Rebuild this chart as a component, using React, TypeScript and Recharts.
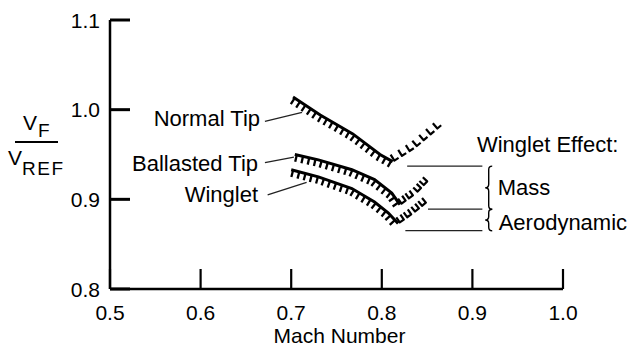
import React from 'react';
import { LineChart, Line, XAxis, YAxis, ReferenceLine, ReferenceDot } from 'recharts';

// ---- data ----
const xTicks = [0.5, 0.6, 0.7, 0.8, 0.9, 1.0];
const yTicks = [0.8, 0.9, 1.0, 1.1];

const machNormalDescent = [0.702, 0.732, 0.768, 0.798, 0.812];
const vNormalDescent = [1.014, 0.994, 0.973, 0.95, 0.942];
const machNormalRise = [0.812, 0.837, 0.866];
const vNormalRise = [0.942, 0.958, 0.983];

const machBallastedDescent = [0.704, 0.73, 0.767, 0.792, 0.811, 0.82];
const vBallastedDescent = [0.95, 0.944, 0.933, 0.922, 0.907, 0.894];
const machBallastedRise = [0.82, 0.838, 0.851];
const vBallastedRise = [0.894, 0.907, 0.921];

const machWingletDescent = [0.7, 0.73, 0.767, 0.792, 0.807, 0.818];
const vWingletDescent = [0.933, 0.925, 0.912, 0.897, 0.885, 0.873];
const machWingletRise = [0.818, 0.835, 0.853];
const vWingletRise = [0.873, 0.885, 0.9];

// Winglet effect reference levels
const levelNormalMin = 0.937;
const levelBallastedMin = 0.889;
const levelWingletMin = 0.865;

const toRows = (m: number[], v: number[]) => m.map((x, i) => ({ m: x, v: v[i] }));

const FONT = '"Liberation Sans", Arial, Helvetica, sans-serif';

// ---- hatch renderers ----
function makeHatch(mode: 'solid' | 'L' | 'U') {
  return (props: any) => {
    const { points, index } = props;
    const k = `h-${index}`;
    if (!points || index >= points.length - 1) return <g key={k} />;
    const p = points[index];
    const q = points[index + 1];
    const dx = q.x - p.x;
    const dy = q.y - p.y;
    const len = Math.hypot(dx, dy);
    if (len === 0) return <g key={k} />;
    const ux = dx / len;
    const uy = dy / len;
    let nx = -uy;
    let ny = ux;
    if (ny < 0) {
      nx = -nx;
      ny = -ny;
    }
    // cumulative distance to start of segment
    let start = 0;
    for (let i = 0; i < index; i++) {
      start += Math.hypot(points[i + 1].x - points[i].x, points[i + 1].y - points[i].y);
    }
    const parts: string[] = [];
    if (mode === 'solid') {
      const step = 6.4;
      let t = Math.ceil((start - 2) / step) * step + 2 - start;
      for (; t <= len + 0.01; t += step) {
        const ax = p.x + ux * t;
        const ay = p.y + uy * t;
        parts.push(`M${ax},${ay}L${ax + nx * 7},${ay + ny * 7}`);
      }
      return (
        <path key={k} d={parts.join('')} stroke="#000" strokeWidth={2.3} fill="none" />
      );
    }
    const pitch = 9;
    const dash = 5;
    let t = 2;
    for (; t + dash <= len + 1; t += pitch) {
      const ax = p.x + ux * t;
      const ay = p.y + uy * t;
      const bx = p.x + ux * (t + dash);
      const by = p.y + uy * (t + dash);
      if (mode === 'U') {
        parts.push(`M${ax - nx * 6},${ay - ny * 6}L${ax},${ay}L${bx},${by}L${bx - nx * 6},${by - ny * 6}`);
      } else {
        parts.push(`M${ax - nx * 7},${ay - ny * 7}L${ax},${ay}L${bx},${by}`);
      }
    }
    return (
      <path key={k} d={parts.join('')} stroke="#000" strokeWidth={2.2} fill="none" strokeLinejoin="round" />
    );
  };
}

const XTick = (props: any) => {
  const { x, y, payload } = props;
  return (
    <g>
      <line x1={x} y1={y} x2={x} y2={y - 20} stroke="#000" strokeWidth={2.2} />
      <text x={x} y={y + 31} textAnchor="middle" fontSize={21} fill="#000" fontFamily={FONT}>
        {Number(payload.value).toFixed(1)}
      </text>
    </g>
  );
};

const YTick = (props: any) => {
  const { x, y, payload } = props;
  return (
    <g>
      <line x1={x} y1={y} x2={x + 20} y2={y} stroke="#000" strokeWidth={3} />
      <text x={x - 10} y={y + 7.5} textAnchor="end" fontSize={21} fill="#000" fontFamily={FONT}>
        {Number(payload.value).toFixed(1)}
      </text>
    </g>
  );
};

const YLabel = () => (
  <g fontFamily={FONT} fill="#000">
    <text x={23} y={130} fontSize={21}>V</text>
    <text x={38} y={137} fontSize={19}>F</text>
    <line x1={15} y1={142} x2={58} y2={142} stroke="#000" strokeWidth={2.2} />
    <text x={8} y={165} fontSize={21}>V</text>
    <text x={22} y={175} fontSize={19} letterSpacing={1.5}>REF</text>
  </g>
);

const textShape = (label: string, anchor: 'start' | 'end') => (props: any) => (
  <text
    x={props.cx}
    y={props.cy}
    textAnchor={anchor}
    fontSize={22}
    fill="#000"
    fontFamily={FONT}
  >
    {label}
  </text>
);

const braceShape = (props: any) => {
  const { x1, y1, y2 } = props;
  const x = x1;
  const top = Math.min(y1, y2);
  const bot = Math.max(y1, y2);
  const mid = (top + bot) / 2;
  const w = 3.5;
  const d = `M${x + w},${top}Q${x},${top} ${x},${top + w}L${x},${mid - w}Q${x},${mid} ${x - w},${mid}Q${x},${mid} ${x},${mid + w}L${x},${bot - w}Q${x},${bot} ${x + w},${bot}`;
  return <path d={d} fill="none" stroke="#000" strokeWidth={1.4} />;
};

const thin = { stroke: '#222', strokeWidth: 1.3 };

export default function App() {
  return (
    <div style={{ position: 'absolute', left: 0, top: 0, fontFamily: FONT, background: '#fff' }}>
      <LineChart width={630} height={348} margin={{ top: 20, right: 67, bottom: 0, left: 0 }}>
        <XAxis
          type="number"
          dataKey="m"
          domain={[0.5, 1.0]}
          ticks={xTicks}
          interval={0}
          height={59}
          allowDataOverflow
          axisLine={{ stroke: '#000', strokeWidth: 2.5 }}
          tickLine={false}
          tickSize={0}
          tickMargin={0}
          tick={XTick}
          label={{ value: 'Mach Number', position: 'insideBottom', offset: 5, dx: 3, fontSize: 21, fill: '#000' }}
        />
        <YAxis
          type="number"
          dataKey="v"
          domain={[0.8, 1.1]}
          ticks={yTicks}
          interval={0}
          width={110}
          allowDataOverflow
          axisLine={{ stroke: '#000', strokeWidth: 2.5 }}
          tickLine={false}
          tickSize={0}
          tickMargin={0}
          tick={YTick}
          label={{ content: () => <YLabel /> }}
        />

        <Line data={toRows(machNormalDescent, vNormalDescent)} dataKey="v" stroke="#000" strokeWidth={3} dot={makeHatch('solid')} activeDot={false} isAnimationActive={false} />
        <Line data={toRows(machNormalRise, vNormalRise)} dataKey="v" stroke="none" dot={makeHatch('L')} activeDot={false} isAnimationActive={false} />
        <Line data={toRows(machBallastedDescent, vBallastedDescent)} dataKey="v" stroke="#000" strokeWidth={3} dot={makeHatch('solid')} activeDot={false} isAnimationActive={false} />
        <Line data={toRows(machBallastedRise, vBallastedRise)} dataKey="v" stroke="none" dot={makeHatch('U')} activeDot={false} isAnimationActive={false} />
        <Line data={toRows(machWingletDescent, vWingletDescent)} dataKey="v" stroke="#000" strokeWidth={3} dot={makeHatch('solid')} activeDot={false} isAnimationActive={false} />
        <Line data={toRows(machWingletRise, vWingletRise)} dataKey="v" stroke="none" dot={makeHatch('U')} activeDot={false} isAnimationActive={false} />

        {/* leader lines */}
        <ReferenceLine segment={[{ x: 0.671, y: 0.987 }, { x: 0.712, y: 0.997 }]} {...thin} />
        <ReferenceLine segment={[{ x: 0.671, y: 0.941 }, { x: 0.703, y: 0.947 }]} {...thin} />
        <ReferenceLine segment={[{ x: 0.674, y: 0.905 }, { x: 0.717, y: 0.919 }]} {...thin} />

        {/* winglet effect levels */}
        <ReferenceLine segment={[{ x: 0.828, y: levelNormalMin }, { x: 0.911, y: levelNormalMin }]} {...thin} />
        <ReferenceLine segment={[{ x: 0.851, y: levelBallastedMin }, { x: 0.911, y: levelBallastedMin }]} {...thin} />
        <ReferenceLine segment={[{ x: 0.826, y: levelWingletMin }, { x: 0.911, y: levelWingletMin }]} {...thin} />
        <ReferenceLine segment={[{ x: 0.918, y: levelNormalMin }, { x: 0.918, y: levelBallastedMin }]} shape={braceShape} />
        <ReferenceLine segment={[{ x: 0.918, y: levelBallastedMin }, { x: 0.918, y: levelWingletMin }]} shape={braceShape} />

        {/* text annotations */}
        <ReferenceDot x={0.6656} y={0.982} r={0} shape={textShape('Normal Tip', 'end')} />
        <ReferenceDot x={0.6634} y={0.932} r={0} shape={textShape('Ballasted Tip', 'end')} />
        <ReferenceDot x={0.6634} y={0.897} r={0} shape={textShape('Winglet', 'end')} />
        <ReferenceDot x={0.905} y={0.953} r={0} shape={textShape('Winglet Effect:', 'start')} />
        <ReferenceDot x={0.928} y={0.905} r={0} shape={textShape('Mass', 'start')} />
        <ReferenceDot x={0.929} y={0.866} r={0} shape={textShape('Aerodynamic', 'start')} />
      </LineChart>
    </div>
  );
}
